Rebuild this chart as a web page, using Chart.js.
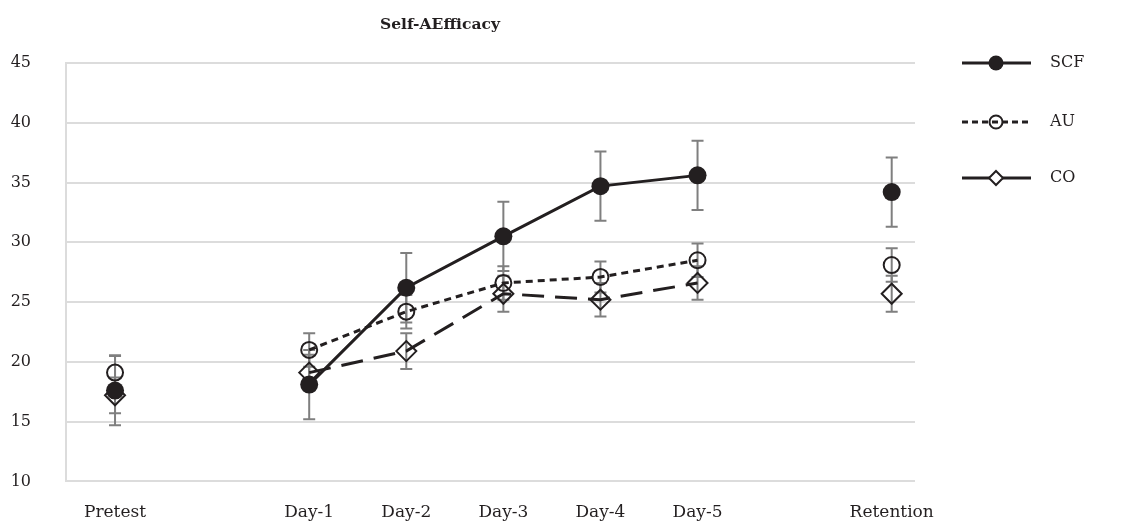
<!DOCTYPE html>
<html>
<head>
<meta charset="utf-8">
<script src="https://cdn.jsdelivr.net/npm/chart.js@4"></script>
<style>
  body { margin: 0; background: #fff; }
  #wrap { width: 1121px; height: 526px; }
</style>
</head>
<body>
<div id="wrap"><canvas id="myChart"></canvas></div>
<script>
// x categories, '' = empty slot between groups
let labels = ['Pretest', '', 'Day-1', 'Day-2', 'Day-3', 'Day-4', 'Day-5', '', 'Retention'];
let yTicks = [10, 15, 20, 25, 30, 35, 40, 45];

let scf = [17.6, null, 18.1, 26.2, 30.5, 34.7, 35.6, null, 34.2];
let au  = [19.1, null, 21.0, 24.2, 26.6, 27.1, 28.5, null, 28.1];
let co  = [17.2, null, 19.1, 20.9, 25.7, 25.2, 26.6, null, 25.7];

let scfErr = [2.9, null, 2.9, 2.9, 2.9, 2.9, 2.9, null, 2.9];
let auErr  = [1.45, null, 1.4, 1.4, 1.4, 1.3, 1.4, null, 1.4];
let coErr  = [1.5, null, 1.5, 1.5, 1.5, 1.4, 1.4, null, 1.5];

let ink = '#231f20';
let font = 'DejaVu Serif';

function pts(arr) {
    return arr.map((v, i) => ({ x: i, y: v }));
}

let errorBars = {
    id: 'errorBars',
    beforeDatasetsDraw(chart) {
        let ctx = chart.ctx;
        let xs = chart.scales.x, ys = chart.scales.y;
        let sets = [[scf, scfErr], [au, auErr], [co, coErr]];
        ctx.save();
        ctx.strokeStyle = '#7f7f7f';
        ctx.lineWidth = 2;
        sets.forEach(([vals, errs]) => {
            vals.forEach((v, i) => {
                if (v === null) return;
                let px = xs.getPixelForValue(i);
                let top = ys.getPixelForValue(v + errs[i]);
                let bot = ys.getPixelForValue(v - errs[i]);
                ctx.beginPath();
                ctx.moveTo(px, top); ctx.lineTo(px, bot);
                ctx.moveTo(px - 6, top); ctx.lineTo(px + 6, top);
                ctx.moveTo(px - 6, bot); ctx.lineTo(px + 6, bot);
                ctx.stroke();
            });
        });
        ctx.restore();
    }
};

let extras = {
    id: 'extras',
    afterDraw(chart) {
        let ctx = chart.ctx;
        ctx.save();
        // title
        ctx.fillStyle = ink;
        ctx.font = 'bold 15.5px "' + font + '"';
        ctx.textAlign = 'center';
        ctx.textBaseline = 'middle';
        ctx.fillText('Self-AEfficacy', 440, 25);

        // legend
        let items = [
            { name: 'SCF', y: 63, dash: [], mark: 'fill' },
            { name: 'AU', y: 122, dash: [6, 4], mark: 'open' },
            { name: 'CO', y: 178, dash: [], mark: 'diamond' }
        ];
        items.forEach(it => {
            ctx.strokeStyle = ink;
            ctx.lineWidth = 3;
            ctx.setLineDash(it.dash);
            ctx.beginPath();
            ctx.moveTo(962, it.y); ctx.lineTo(1031, it.y);
            ctx.stroke();
            ctx.setLineDash([]);
            ctx.lineWidth = 2;
            if (it.mark === 'fill') {
                ctx.fillStyle = ink;
                ctx.beginPath(); ctx.arc(996, it.y, 7.5, 0, Math.PI * 2); ctx.fill();
            } else if (it.mark === 'open') {
                ctx.beginPath(); ctx.arc(996, it.y, 6.5, 0, Math.PI * 2); ctx.stroke();
            } else {
                ctx.fillStyle = '#fff';
                ctx.beginPath();
                ctx.moveTo(996, it.y - 7); ctx.lineTo(1003, it.y);
                ctx.lineTo(996, it.y + 7); ctx.lineTo(989, it.y);
                ctx.closePath(); ctx.fill(); ctx.stroke();
            }
            ctx.fillStyle = ink;
            ctx.font = '16px "' + font + '"';
            ctx.textAlign = 'left';
            ctx.fillText(it.name, 1050, it.y);
        });
        ctx.restore();
    }
};

let myChart = new Chart(document.getElementById('myChart').getContext('2d'), {
    type: 'line',
    data: {
        datasets: [{
            label: 'SCF',
            data: pts(scf),
            borderColor: ink,
            backgroundColor: ink,
            borderWidth: 3,
            pointRadius: 9,
            pointBorderWidth: 0,
            pointStyle: 'circle'
        }, {
            label: 'AU',
            data: pts(au),
            borderColor: ink,
            backgroundColor: 'rgba(0,0,0,0)',
            borderWidth: 3,
            borderDash: [7, 5],
            pointRadius: 8,
            pointBorderWidth: 2,
            pointStyle: 'circle'
        }, {
            label: 'CO',
            data: pts(co),
            borderColor: ink,
            backgroundColor: 'rgba(0,0,0,0)',
            borderWidth: 3,
            borderDash: [22, 11],
            pointRadius: 10,
            pointBorderWidth: 2,
            pointStyle: 'rectRot'
        }]
    },
    options: {
        responsive: true,
        maintainAspectRatio: false,
        animation: false,
        layout: { padding: { top: 63, left: 10, right: 206, bottom: 0 } },
        plugins: {
            legend: false,
            tooltip: { enabled: false }
        },
        scales: {
            x: {
                type: 'linear',
                min: -0.505,
                max: 8.24,
                afterFit: (s) => { s.height = 43; },
                grid: { display: false, drawTicks: false },
                border: { display: false },
                afterBuildTicks: (s) => { s.ticks = labels.map((l, i) => ({ value: i })); },
                ticks: {
                    autoSkip: false,
                    maxRotation: 0,
                    padding: 21,
                    color: ink,
                    font: { family: font, size: 17 },
                    callback: (value) => labels[value]
                }
            },
            y: {
                min: 10,
                max: 45,
                afterFit: (s) => { s.width = 56; },
                afterBuildTicks: (s) => { s.ticks = yTicks.map(v => ({ value: v })); },
                grid: { color: '#dcdcdc', lineWidth: 2, drawTicks: false },
                border: { color: '#dcdcdc', width: 2 },
                ticks: {
                    padding: 35,
                    color: ink,
                    font: { family: font, size: 16 }
                }
            }
        }
    },
    plugins: [errorBars, extras]
});
</script>
</body>
</html>
